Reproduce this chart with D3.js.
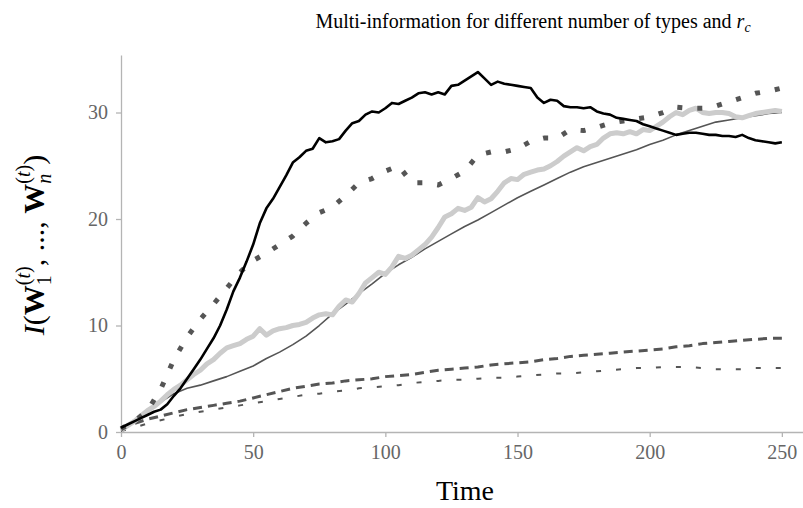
<!DOCTYPE html>
<html>
<head>
<meta charset="utf-8">
<script src="https://cdn.jsdelivr.net/npm/d3@7"></script>
<style>
  body { margin: 0; background: #fff; }
  svg { display: block; }
</style>
</head>
<body>
<div id="chart"></div>
<script>
// time steps of the sampled runs
var times_fine = d3.range(0, 250.01, 2.5);
var times_coarse = d3.range(0, 250.01, 5);

// solid black, noisy
var black_vals = [0.4,0.7,1.0,1.3,1.6,1.9,2.1,2.6,3.4,4.1,
  5.0,5.9,6.8,7.8,8.8,10.0,11.5,13.2,14.5,16.0,
  17.6,19.6,21.0,21.9,23.0,24.1,25.3,25.8,26.4,26.6,
  27.6,27.2,27.3,27.5,28.3,29.0,29.2,29.8,30.1,30.0,
  30.4,30.9,30.8,31.1,31.4,31.8,31.9,31.7,31.9,31.7,
  32.5,32.6,33.0,33.4,33.8,33.2,32.6,32.9,32.7,32.6,
  32.5,32.4,32.3,31.4,30.9,31.2,31.1,30.6,30.5,30.5,
  30.4,30.5,30.1,29.9,29.8,29.5,29.4,29.3,29.2,28.9,
  28.7,28.5,28.3,28.1,27.9,28.0,28.1,28.1,28.0,27.9,
  27.9,27.8,27.8,27.7,27.9,27.6,27.4,27.3,27.2,27.1,
  27.2];

// thick light grey, noisy
var grey_vals = [0.2,0.6,1.0,1.5,2.0,2.4,2.9,3.5,4.0,4.4,
  4.9,5.4,5.8,6.4,6.8,7.4,7.9,8.1,8.3,8.7,
  9.0,9.7,9.1,9.5,9.7,9.8,10.0,10.1,10.3,10.7,
  11.0,11.1,11.0,11.8,12.4,12.2,13.0,14.0,14.5,15.0,
  14.8,15.5,16.5,16.3,16.6,17.1,17.6,18.3,19.2,20.2,
  20.5,21.0,20.8,21.1,22.0,21.6,21.9,22.6,23.4,23.8,
  23.7,24.2,24.4,24.6,24.7,25.0,25.4,25.9,26.3,26.7,
  26.4,26.8,27.0,27.6,28.0,28.1,28.0,28.2,28.0,28.4,
  28.3,28.7,29.1,29.6,30.0,29.8,30.2,30.4,30.0,29.9,
  30.0,30.0,29.9,29.6,29.5,29.7,29.9,30.0,30.1,30.2,
  30.1];

// thin dark grey, smooth
var thin_vals = [0.2,1.0,1.9,2.8,3.6,4.1,4.4,4.8,5.2,5.7,
  6.2,6.9,7.5,8.2,9.0,10.0,11.1,12.0,13.0,13.9,
  14.9,15.7,16.4,17.2,17.9,18.6,19.3,19.9,20.6,21.3,
  22.0,22.6,23.2,23.8,24.4,24.9,25.3,25.7,26.1,26.5,
  27.0,27.4,27.9,28.3,28.7,29.1,29.3,29.5,29.7,29.9,
  30.0];

// dotted dark grey
var dotted_vals = [0.3,1.0,2.0,4.0,6.8,8.9,10.6,12.0,13.5,15.0,
  16.1,16.8,17.6,18.4,19.6,20.6,21.1,22.2,23.4,23.8,
  24.5,25.0,23.4,23.4,23.2,23.8,24.5,26.0,26.3,26.3,
  26.6,27.3,27.6,27.6,28.4,28.3,28.6,29.0,29.2,29.4,
  29.6,30.0,30.5,30.4,30.4,30.6,31.0,31.4,31.8,32.0,
  32.3];

// long dashes
var dashed_vals = [0.3,0.8,1.2,1.5,1.8,2.1,2.3,2.5,2.7,2.9,
  3.2,3.5,3.8,4.1,4.3,4.5,4.6,4.8,4.9,5.0,
  5.2,5.3,5.4,5.6,5.8,5.9,6.0,6.1,6.3,6.4,
  6.5,6.6,6.8,6.9,7.1,7.2,7.3,7.4,7.5,7.6,
  7.7,7.8,8.0,8.1,8.3,8.4,8.5,8.6,8.7,8.8,
  8.8];

// short dashes
var short_vals = [0.1,0.4,0.8,1.1,1.4,1.7,1.9,2.1,2.3,2.5,
  2.7,2.9,3.1,3.3,3.5,3.6,3.8,3.9,4.1,4.2,
  4.3,4.4,4.6,4.7,4.8,4.9,4.9,5.0,5.1,5.1,
  5.2,5.3,5.4,5.5,5.5,5.6,5.7,5.8,5.9,6.0,
  6.0,6.1,6.1,6.1,6.0,5.9,5.9,5.9,6.0,6.0,
  6.0];

var x_ticks = [0, 50, 100, 150, 200, 250];
var y_ticks = [0, 10, 20, 30];

var svg_width = 803, svg_height = 508;
var margin = {left: 121, top: 55, right: 0, bottom: 76};

var svg = d3.select('#chart')
  .append('svg')
  .attr('width', svg_width)
  .attr('height', svg_height);

var x = d3.scaleLinear()
  .domain([0, 258])
  .range([margin.left, svg_width - margin.right]);

var y = d3.scaleLinear()
  .domain([0, 35.4])
  .range([svg_height - margin.bottom, margin.top]);

var font = '"Liberation Serif", "Times New Roman", serif';

// axes
var x_axis = svg.append('g')
  .attr('transform', 'translate(0,' + y(0) + ')')
  .call(d3.axisBottom(x).tickValues(x_ticks).tickSize(5).tickSizeOuter(0).tickPadding(6));

var y_axis = svg.append('g')
  .attr('transform', 'translate(' + x(0) + ',0)')
  .call(d3.axisLeft(y).tickValues(y_ticks).tickSize(5).tickSizeOuter(0).tickPadding(8));

[x_axis, y_axis].forEach(function(ax) {
  ax.select('.domain').attr('stroke', '#b4b4b4').attr('stroke-width', 1.3);
  ax.selectAll('.tick line').attr('stroke', '#b4b4b4').attr('stroke-width', 1.3);
  ax.selectAll('.tick text')
    .attr('fill', '#666')
    .style('font-family', font)
    .style('font-size', '20px');
});
x_axis.selectAll('.tick text').attr('dy', '0.8em');

var line = d3.line()
  .x(function(d) { return x(d[0]); })
  .y(function(d) { return y(d[1]); });

function pairs(ts, vs) {
  return vs.map(function(v, i) { return [ts[i], v]; });
}

var series = [
  {vals: short_vals, ts: times_coarse, color: '#555', width: 2, dash: '5,15'},
  {vals: dashed_vals, ts: times_coarse, color: '#555', width: 3, dash: '9,6'},
  {vals: thin_vals, ts: times_coarse, color: '#555', width: 1.6, dash: null},
  {vals: grey_vals, ts: times_fine, color: '#cccccc', width: 5, dash: null},
  {vals: dotted_vals, ts: times_coarse, color: '#555', width: 5, dash: '5,15'},
  {vals: black_vals, ts: times_fine, color: '#000', width: 2.6, dash: null}
];

svg.append('g')
  .selectAll('path')
  .data(series)
  .enter()
  .append('path')
  .attr('d', function(s) { return line(pairs(s.ts, s.vals)); })
  .attr('fill', 'none')
  .attr('stroke', function(s) { return s.color; })
  .attr('stroke-width', function(s) { return s.width; })
  .attr('stroke-dasharray', function(s) { return s.dash; })
  .attr('stroke-linejoin', 'round');

// title
var title = svg.append('text')
  .attr('x', 533)
  .attr('y', 28)
  .attr('text-anchor', 'middle')
  .style('font-family', font)
  .style('font-size', '20px')
  .attr('fill', '#000');
title.append('tspan').text('Multi-information for different number of types and ');
title.append('tspan').attr('font-style', 'italic').text('r');
title.append('tspan').attr('font-style', 'italic').attr('font-size', '14px').attr('dy', 4).text('c');

// x label
svg.append('text')
  .attr('x', 465)
  .attr('y', 500)
  .attr('text-anchor', 'middle')
  .style('font-family', font)
  .style('font-size', '28px')
  .text('Time');

// y label
var ylab = svg.append('text')
  .attr('transform', 'translate(44,245) rotate(-90)')
  .attr('text-anchor', 'middle')
  .style('font-family', font)
  .style('font-size', '30px');
ylab.append('tspan').attr('font-style', 'italic').text('I');
ylab.append('tspan').text('(');
ylab.append('tspan').attr('font-weight', 'bold').text('W');
ylab.append('tspan').attr('font-size', '20px').attr('dy', 7).text('1');
ylab.append('tspan').attr('font-size', '20px').attr('dx', -10).attr('dy', -21).text('(');
ylab.append('tspan').attr('font-size', '20px').attr('font-style', 'italic').text('t');
ylab.append('tspan').attr('font-size', '20px').text(')');
ylab.append('tspan').attr('dy', 14).text(', ..., ');
ylab.append('tspan').attr('font-weight', 'bold').text('W');
ylab.append('tspan').attr('font-size', '20px').attr('font-style', 'italic').attr('dy', 7).text('n');
ylab.append('tspan').attr('font-size', '20px').attr('dx', -10).attr('dy', -21).text('(');
ylab.append('tspan').attr('font-size', '20px').attr('font-style', 'italic').text('t');
ylab.append('tspan').attr('font-size', '20px').text(')');
ylab.append('tspan').attr('dy', 14).text(')');
</script>
</body>
</html>
